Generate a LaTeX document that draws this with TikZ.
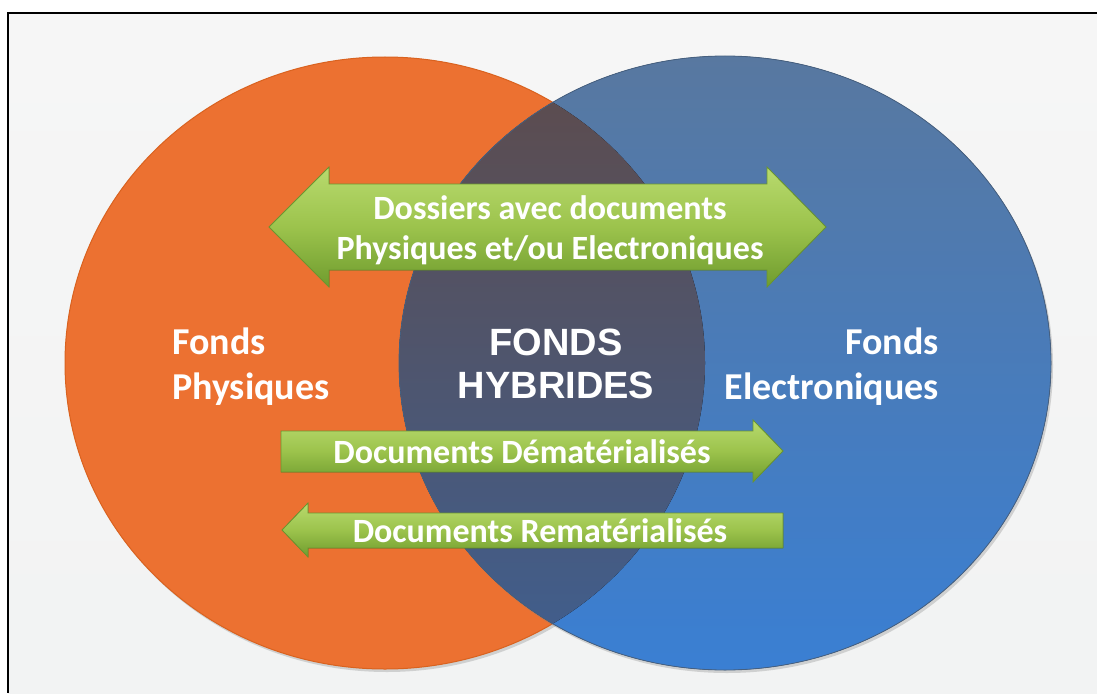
\documentclass[tikz,border=0pt]{standalone}
\usepackage{fontspec}
\setmainfont{Carlito}
\newfontfamily\arialfont{Liberation Sans}
\usepackage{tikz}
\usetikzlibrary{positioning,shadows}

\definecolor{orangefond}{HTML}{EC7131}
\definecolor{orangebord}{HTML}{D9621F}
\definecolor{bleuhaut}{HTML}{5878A0}
\definecolor{bleubas}{HTML}{3A7FD3}
\definecolor{interhaut}{HTML}{5E4B4B}
\definecolor{interbas}{HTML}{3F5F90}
\definecolor{vertclair}{HTML}{B8DA6E}
\definecolor{vertmilieu}{HTML}{9CC34C}
\definecolor{vertfonce}{HTML}{6F9C2E}
\definecolor{vertbord}{HTML}{6A9630}

\begin{document}
\begin{tikzpicture}[x=1pt, y=-1pt,
        fondtexte/.style = {text=white, inner sep=0pt,
        font=\bfseries\fontsize{38}{45}\selectfont},
        flechetexte/.style = {text=white, inner sep=0pt, align=center,
        font=\bfseries\fontsize{34}{40}\selectfont},
        flecheverte/.style = {top color=vertclair, bottom color=vertfonce,
        middle color=vertmilieu, draw=vertbord, line width=0.8pt},
        rond/.style = {drop shadow={opacity=0.3, shadow xshift=2pt, shadow yshift=-3pt}}]
        \useasboundingbox (0,0) rectangle (1097,693);
        % fond et cadre
        \fill[top color=gray!7, bottom color=cyan!4!gray!10] (8,13) rectangle (1097,693);
        \draw[line width=2pt] (1097,13) -- (8,13) -- (8,693);
        % les deux fonds
        \fill[orangefond, rond] (385,363) ellipse [x radius=320pt, y radius=306pt];
        \draw[orangebord, line width=1pt] (385,363) ellipse [x radius=320pt, y radius=306pt];
        \fill[top color=bleuhaut, bottom color=bleubas, rond]
                (725,363) ellipse [x radius=326pt, y radius=307pt];
        \begin{scope}
                \clip (385,363) ellipse [x radius=320pt, y radius=306pt];
                \fill[top color=interhaut, bottom color=interbas]
                        (725,363) ellipse [x radius=326pt, y radius=307pt];
        \end{scope}
        \draw[bleuhaut!80!black, line width=0.8pt] (725,363) ellipse [x radius=326pt, y radius=307pt];
        % fleches
        \filldraw[flecheverte] (269,227) -- (329,167) -- (329,184) -- (767,184)
                -- (767,167) -- (826,227) -- (767,287) -- (767,270)
                -- (329,270) -- (329,287) -- cycle;
        \filldraw[flecheverte] (281,431) -- (753,431) -- (753,420) -- (783,451)
                -- (753,482) -- (753,472) -- (281,472) -- cycle;
        \filldraw[flecheverte] (282,530) -- (308,503) -- (308,513) -- (783,513)
                -- (783,548) -- (308,548) -- (308,557) -- cycle;
        % textes
        \node[flechetexte] (dossiers) at (550,230)
                {Dossiers avec documents\\Physiques et/ou Electroniques};
        \node[flechetexte] (demat) at (522,452) {Documents Dématérialisés};
        \node[flechetexte] (remat) at (540,531) {Documents Rematérialisés};
        \node[fondtexte, align=left, anchor=west] (physiques) at (172,367)
                {Fonds\\Physiques};
        \node[fondtexte, align=right, anchor=east] (electroniques) at (939,367)
                {Fonds\\Electroniques};
        \node[text=white, inner sep=0pt, align=center,
                font=\arialfont\bfseries\fontsize{38}{43}\selectfont]
                (hybrides) at (556,364) {FONDS\\HYBRIDES};
\end{tikzpicture}
\end{document}
